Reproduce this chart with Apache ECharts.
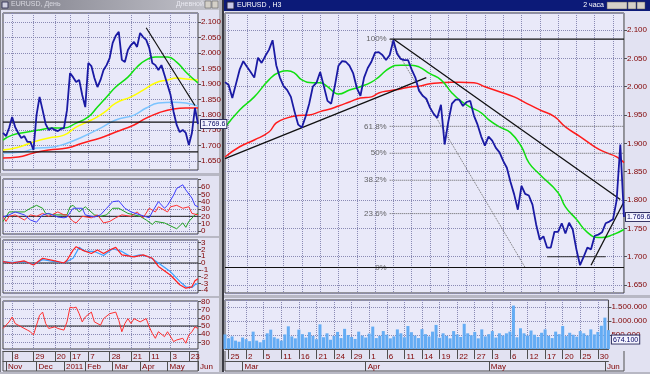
<!DOCTYPE html>
<html><head><meta charset="utf-8">
<script src="https://cdn.jsdelivr.net/npm/echarts@6/dist/echarts.min.js"></script>
<style>html,body{margin:0;padding:0;background:#e2e2f2;}#c{width:650px;height:374px;}</style>
</head><body><div id="c"></div>
<script>
// ---------------- DATA ----------------
// Left window (daily)
const leftClose = [1.741,1.731,1.757,1.793,1.760,1.741,1.725,1.731,1.712,1.712,
  1.686,1.799,1.858,1.815,1.770,1.751,1.757,1.751,1.747,1.754,
  1.757,1.815,1.935,1.922,1.906,1.913,1.864,1.825,1.968,1.958,
  1.919,1.890,1.913,1.945,1.961,1.984,2.033,2.056,2.069,1.978,
  1.971,2.010,2.026,2.036,2.020,2.065,2.052,2.043,2.017,1.968,
  1.961,1.945,1.961,1.929,1.897,1.864,1.809,1.767,1.744,1.751,
  1.741,1.702,1.741,1.822,1.770];
const leftGreen = [[0,1.718],[3,1.734],[8,1.744],[12,1.751],[16,1.757],[20,1.757],[24,1.773],[28,1.793],[31,1.825],[34,1.858],[37,1.890],[41,1.922],[44,1.955],[47,1.978],[50,1.987],[54,1.987],[57,1.971],[60,1.939],[64,1.903]];
const leftYellow = [[0,1.686],[5,1.695],[10,1.712],[15,1.725],[20,1.734],[24,1.760],[29,1.783],[33,1.806],[37,1.838],[42,1.858],[46,1.880],[50,1.903],[54,1.913],[57,1.919],[60,1.916],[64,1.913]];
const leftSky = [[0,1.676],[6,1.679],[11,1.692],[16,1.695],[21,1.708],[26,1.728],[32,1.757],[37,1.783],[43,1.799],[47,1.822],[51,1.838],[56,1.841],[60,1.838],[64,1.828]];
const leftRed = [[0,1.660],[5,1.663],[10,1.676],[15,1.686],[21,1.692],[26,1.708],[32,1.725],[37,1.744],[43,1.767],[47,1.789],[51,1.806],[56,1.819],[60,1.822],[64,1.822]];
const leftLevels = [1.776, 1.680];
const leftTrend = [[47,2.082],[63,1.830]];
const lastPriceText = '1.769.6';

const oscBlue = [[0,19],[2,22],[4,26],[7,22],[9,15],[11,12],[13,22],[15,24],[18,19],[20,18],[21,19],[23,31],[24,31],[26,31],[27,22],[30,19],[32,22],[34,31],[36,40],[38,41],[40,31],[42,26],[45,22],[48,18],[49,26],[51,40],[53,31],[54,35],[56,49],[57,58],[59,63],[60,56],[62,45],[63,35],[64,33]];
const oscRed = [[0,20],[1,13],[2,20],[4,22],[7,15],[9,22],[11,20],[13,24],[15,20],[18,26],[20,22],[21,22],[23,13],[24,11],[26,20],[29,18],[31,22],[33,11],[35,13],[37,18],[39,22],[42,20],[44,26],[46,18],[48,31],[50,26],[51,33],[54,26],[55,33],[57,35],[59,31],[61,33],[62,24],[64,22]];
const oscGreen = [[0,13],[2,26],[4,26],[7,26],[9,31],[11,35],[13,31],[14,24],[17,22],[19,22],[21,22],[22,33],[23,35],[25,26],[27,33],[30,22],[32,20],[34,22],[36,31],[38,31],[41,24],[43,22],[45,20],[47,15],[49,9],[50,13],[53,11],[55,7],[57,3],[59,11],[60,5],[61,13],[63,22],[64,24]];
const oscALevel = 20;
const macdRed = [[0,0.2],[3,0],[7,0.3],[10,-0.3],[13,0.7],[17,0.3],[20,0],[21,0.4],[23,1.9],[24,2.4],[26,1.9],[29,1.4],[31,1.9],[33,1.4],[35,1.9],[37,2.3],[39,1.2],[43,0.9],[46,1.2],[49,0.7],[51,-0.5],[55,-1.8],[58,-3.2],[60,-3.7],[62,-3.5],[63,-2.6],[64,-2.3]];
const macdBlue = [[0,0.2],[3,0.1],[7,0.2],[10,-0.2],[13,0.5],[17,0.2],[20,0],[23,0.7],[25,2.3],[27,1.7],[30,1.7],[33,1.1],[36,2.1],[39,1.7],[42,0.9],[45,1.2],[48,0.9],[51,0],[55,-1.3],[58,-2.7],[60,-3.5],[62,-3.6],[63,-3.2],[64,-3.0]];
const rsi = [[0,47],[2,55],[3,61],[4,53],[6,49],[8,45],[9,43],[10,39],[11,51],[12,63],[13,67],[14,53],[15,47],[17,49],[18,47],[20,45],[21,55],[22,73],[23,72],[24,73],[25,65],[26,55],[27,61],[29,67],[30,55],[32,51],[33,59],[35,65],[37,67],[38,57],[39,43],[40,53],[41,59],[42,53],[43,59],[45,55],[47,59],[48,49],[49,41],[50,35],[51,43],[53,37],[54,43],[56,31],[57,33],[59,35],[60,29],[61,39],[62,43],[63,49],[64,47]];

const leftDays = ['8','29','20','17','7','28','21','11','3','23'];
const leftDayIdx = [3,10,17,22,28,35,42,48,55,61];
const leftMonths = ['Nov','Dec','2011','Feb','Mar','Apr','May','Jun'];
const leftMonthIdx = [1,11,20,27,36,45,54,64];

// Right window (intraday)
const rightClose = [2.008,2.003,1.980,2.005,2.030,2.045,2.035,2.026,2.016,2.051,
  2.042,2.054,2.065,2.082,2.038,2.016,2.001,1.994,1.982,1.956,
  1.933,1.928,1.947,1.970,2.000,2.007,2.026,2.001,1.975,1.970,
  2.001,2.037,2.045,2.044,2.037,2.024,1.998,1.984,2.016,2.033,
  2.044,2.060,2.061,2.056,2.047,2.056,2.082,2.058,2.049,2.047,
  2.047,2.030,2.016,1.993,1.984,1.979,1.963,1.952,1.945,1.968,
  1.898,1.938,1.970,1.977,1.977,1.966,1.973,1.975,1.949,1.933,
  1.912,1.896,1.912,1.905,1.892,1.884,1.869,1.857,1.832,1.810,
  1.783,1.825,1.811,1.808,1.792,1.757,1.730,1.736,1.716,1.716,
  1.744,1.744,1.759,1.741,1.760,1.748,1.713,1.685,1.700,1.716,
  1.713,1.737,1.739,1.743,1.759,1.762,1.766,1.800,1.898,1.770];
const rightGreen = [[0,1.928],[4,1.959],[8,1.982],[12,2.012],[15,2.026],[17,2.028],[19,2.024],[21,2.012],[24,2.007],[26,2.007],[28,2.000],[30,1.989],[31,1.987],[34,1.994],[37,2.000],[40,2.008],[42,2.017],[45,2.033],[48,2.038],[51,2.038],[53,2.035],[56,2.023],[59,2.012],[62,1.989],[64,1.977],[67,1.964],[70,1.954],[72,1.942],[75,1.929],[78,1.919],[81,1.894],[83,1.866],[86,1.845],[91,1.813],[93,1.788],[96,1.766],[99,1.743],[102,1.734],[103,1.734],[106,1.739],[109,1.748]];
const rightRed = [[0,1.876],[4,1.894],[8,1.906],[12,1.920],[14,1.936],[17,1.945],[20,1.949],[23,1.950],[26,1.956],[29,1.961],[31,1.966],[34,1.973],[37,1.980],[40,1.982],[42,1.989],[45,1.993],[48,1.996],[51,2.000],[53,2.001],[56,2.005],[59,2.007],[62,2.008],[64,2.008],[68,2.007],[71,2.000],[75,1.991],[79,1.982],[82,1.972],[86,1.959],[90,1.947],[93,1.929],[97,1.912],[101,1.894],[104,1.884],[107,1.876],[109,1.866]];
const rightSupport = [[0,1.873],[55,2.016]];
const rightResist = [[46,2.084],[108,1.801]];
const rightUpLine = [[100,1.685],[109,1.797]];
const rightFlat = [[88,1.700],[104,1.700]];
const fibHigh = 2.084, fibLow = 1.681, fibStart = 45, fibEnd = 109, fibDiagEnd = 82;
const fibNames = ['100%','61.8%','50%','38.2%','23.6%','0%'];
const fibRatios = [1, 0.618, 0.5, 0.382, 0.236, 0];
const rightVol = [520,380,450,300,260,410,350,280,620,300,
  240,330,560,690,420,370,300,520,810,450,
  380,690,530,410,600,470,350,880,420,560,
  330,470,610,390,720,500,430,360,620,480,
  410,550,800,390,470,640,510,380,450,700,
  560,420,820,600,480,390,710,530,450,620,
  860,400,560,470,380,640,520,430,900,560,
  490,610,380,700,450,530,640,410,560,480,
  560,620,1550,420,740,560,480,660,510,430,
  580,700,470,390,620,530,820,460,580,510,
  440,640,560,480,700,520,610,830,1120,674];
const lastVolText = '674.100';
const rightDays = ['25','2','5','11','16','21','24','29','1','6','11','14','19','22','27','3','6','12','17','20','25','30'];
const rightDayIdx = [1,6,11,16,21,26,31,36,41,46,51,56,61,66,71,76,81,86,91,96,101,106];
const rightMonths = ['Mar','Apr','May','Jun'];
const rightMonthIdx = [5,40,75,108];

// ---------------- CHART ----------------
const LBL = '#800000', FONT = 'Liberation Sans, Arial, sans-serif';
const GL = {type:'dotted', color:'#8a8ab4', width:1};
const PLOTBG = '#e9e9f9';
function mapOf(idx, labels){const m={};idx.forEach((i,k)=>m[i]=labels?labels[k]:'');return m;}
const LD = mapOf(leftDayIdx, leftDays), LM = mapOf(leftMonthIdx, leftMonths);
const RD = mapOf(rightDayIdx, rightDays), RM = mapOf(rightMonthIdx, rightMonths);
const cats = n => Array.from({length:n}, (_,i)=>String(i));

function xCat(gridIndex, n, map, withLabels, offset, tickLen, split){
  const ax = {type:'category', gridIndex, boundaryGap:false, data:cats(n),
    axisLine:{show:false}, axisTick:{show:false}, axisLabel:{show:false},
    splitLine:{show:!!split, interval:(i)=>(i in map), lineStyle:GL}};
  if (withLabels){
    ax.position = 'bottom'; ax.offset = offset;
    ax.axisLine = {show:true, lineStyle:{color:'#505050', width:1}};
    ax.axisTick = {show:true, length:tickLen, interval:(i)=>(i in map), lineStyle:{color:'#505050'}};
    ax.axisLabel = {show:true, interval:(i)=>(i in map), formatter:(v,i)=>map[i]||'',
      align:'left', padding:[0,0,0,2], margin:2, color:LBL, fontSize:8, fontFamily:FONT};
  }
  return ax;
}
function yVal(gridIndex, min, max, splitNumber, fmt){
  return {type:'value', gridIndex, min, max, splitNumber, position:'right',
    axisLine:{show:false}, axisTick:{show:true, length:3, lineStyle:{color:'#505050'}},
    axisLabel:{show:true, color:LBL, fontSize:8, fontFamily:FONT, margin:3,
      showMinLabel:false, showMaxLabel:false, formatter:fmt},
    splitLine:{show:true, lineStyle:GL}};
}
const grid = (left, top, width, height) => ({left, top, width, height, show:true,
  backgroundColor:PLOTBG, borderColor:'#404040', borderWidth:1, containLabel:false});

function ln(x, y, data, color, width, extra){
  return Object.assign({type:'line', xAxisIndex:x, yAxisIndex:y, data, symbol:'none',
    lineStyle:{color, width}, itemStyle:{color}, silent:true, animation:false}, extra||{});
}
const flat = (a, b, v) => [[a, v],[b, v]];
const thou = v => v === 0 ? '0' : String(v*1000).replace(/\B(?=(\d{3})+(?!\d))/g, '.');
const boxLabel = {color:'#000060', fontSize:7, fontFamily:FONT, backgroundColor:'#f4f4ff',
  borderColor:'#303060', borderWidth:1, padding:[1,1,0,1]};

const series = [];
// left price
series.push(ln(0,0,leftRed,'#ff1c1c',1.5,{smooth:true}));
series.push(ln(0,0,leftSky,'#7cc4ff',1.5,{smooth:true}));
series.push(ln(0,0,leftYellow,'#ffff00',1.5,{smooth:true}));
series.push(ln(0,0,leftGreen,'#10e010',1.5,{smooth:true}));
leftLevels.forEach(v=>series.push(ln(0,0,flat(0,64,v),'#101010',1.2)));
series.push(ln(0,0,leftTrend,'#101010',1.2));
series.push(ln(0,0,leftClose,'#1a1aa4',1.8,{endLabel:Object.assign({show:true, formatter:lastPriceText, distance:3}, boxLabel)}));
// panel A
series.push(ln(1,1,flat(0,64,oscALevel),'#202020',1));
series.push(ln(1,1,oscGreen,'#20a020',1));
series.push(ln(1,1,oscRed,'#ff3030',1));
series.push(ln(1,1,oscBlue,'#3c3cff',1));
// panel B
series.push(ln(2,2,flat(0,64,0),'#202020',1));
series.push(ln(2,2,macdBlue,'#3aa0ff',1.2));
series.push(ln(2,2,macdRed,'#ff2020',1.2));
// panel C
series.push(ln(3,3,flat(0,64,50),'#202020',1));
series.push(ln(3,3,rsi,'#ff3030',1));
// right price
series.push(ln(5,4,rightRed,'#ff1c1c',1.5,{smooth:true}));
series.push(ln(5,4,rightGreen,'#10e010',1.5,{smooth:true}));
fibRatios.forEach((r,k)=>{
  const v = fibLow + r*(fibHigh-fibLow);
  const solid = (r===1 || r===0);
  series.push(ln(5,4, r===0 ? flat(0,fibEnd,v) : flat(fibStart,fibEnd,v), solid?'#101010':'#606060', solid?1.2:1,
    solid?{}:{lineStyle:{color:'#606060', width:1, type:'dotted'}}));
});
series.push({type:'scatter', xAxisIndex:5, yAxisIndex:4, symbolSize:0, silent:true, animation:false,
  data: fibRatios.map((r,k)=>({name:fibNames[k], value:[fibStart, fibLow + r*(fibHigh-fibLow)]})),
  label:{show:true, position:'left', distance:3, formatter:'{b}', color:'#404040', fontSize:8, fontFamily:FONT}});
series.push(ln(5,4,[[fibStart,fibHigh],[fibDiagEnd,fibLow]],'#707070',1,{lineStyle:{color:'#707070',width:1,type:'dotted'}}));
series.push(ln(5,4,rightSupport,'#101010',1.3));
series.push(ln(5,4,rightResist,'#101010',1.3));
series.push(ln(5,4,rightUpLine,'#101010',1.3));
series.push(ln(5,4,rightFlat,'#303030',1));
series.push(ln(5,4,rightClose,'#1a1aa4',1.8,{endLabel:Object.assign({show:true, formatter:lastPriceText, distance:2}, boxLabel)}));
// volume
series.push({type:'bar', xAxisIndex:6, yAxisIndex:5, barWidth:3, silent:true, animation:false,
  itemStyle:{color:'#64acf4'},
  data: rightVol.map((v,i)=> i===rightVol.length-1 ? {value:v, label:Object.assign({show:true, position:'right', distance:2,
    formatter:lastVolText}, boxLabel)} : v)});

const option = {
  animation:false,
  backgroundColor:'#e2e2f2',
  grid:[grid(3,13,195,157), grid(3,179,195,55), grid(3,240,195,53), grid(3,301,195,48),
        grid(225,13,399,280), grid(225,300,399,49)],
  xAxis:[
    xCat(0,65,LD,false,0,0,true), xCat(1,65,LD,false,0,0,true), xCat(2,65,LD,false,0,0,true),
    xCat(3,65,LD,true,2,10,true), xCat(3,65,LM,true,12,10,false),
    xCat(4,110,RD,false,0,0,true),
    xCat(5,110,RD,true,2,10,true), xCat(5,110,RM,true,12,10,false)
  ],
  yAxis:[
    yVal(0,1.621,2.130,10,v=>v.toFixed(3)),
    yVal(1,-4.1,70.9,7,v=>(v>60?'':String(v))),
    yVal(2,-4.41,3.38,8,v=>String(v)),
    yVal(3,21.95,80.5,6,v=>String(v)),
    yVal(4,1.636,2.130,10,v=>v.toFixed(3)),
    yVal(5,0,1750,4,thou)
  ],
  series,
  graphic:{elements:[
    // left title bar
    {type:'rect', shape:{x:0,y:0,width:219,height:10}, style:{fill:new echarts.graphic.LinearGradient(0,0,1,0,[{offset:0,color:'#7f7f8a'},{offset:1,color:'#c4c4cc'}])}, silent:true},
    {type:'rect', shape:{x:2,y:2,width:6,height:6}, style:{fill:'#d0d0e0', stroke:'#404060'}, silent:true},
    {type:'text', x:11, y:1, style:{text:'EURUSD, День', fill:'#d8d8e0', fontSize:7, fontFamily:FONT}, silent:true},
    {type:'text', x:176, y:1, style:{text:'Дневной', fill:'#e8e8f0', fontSize:7, fontFamily:FONT}, silent:true},
    {type:'rect', shape:{x:205,y:1,width:6,height:7}, style:{fill:'#d4d0c8', stroke:'#505050', lineWidth:0.5}, silent:true},
    {type:'rect', shape:{x:212,y:1,width:6,height:7}, style:{fill:'#d4d0c8', stroke:'#505050', lineWidth:0.5}, silent:true},
    // right title bar
    {type:'rect', shape:{x:224,y:0,width:426,height:11}, style:{fill:'#0c1a78'}, silent:true},
    {type:'rect', shape:{x:227,y:2,width:7,height:7}, style:{fill:'#c8c8e8', stroke:'#202040'}, silent:true},
    {type:'text', x:237, y:2, style:{text:'EURUSD , H3', fill:'#ffffff', fontSize:7, fontFamily:FONT}, silent:true},
    {type:'text', x:604, y:2, style:{text:'2 часа', fill:'#ffffff', fontSize:7, fontFamily:FONT, align:'right'}, silent:true},
    {type:'rect', shape:{x:607,y:2,width:20,height:7}, style:{fill:'#d4d0c8', stroke:'#505050', lineWidth:0.5}, silent:true},
    {type:'rect', shape:{x:628,y:2,width:8,height:7}, style:{fill:'#d4d0c8', stroke:'#505050', lineWidth:0.5}, silent:true},
    {type:'rect', shape:{x:637,y:2,width:8,height:7}, style:{fill:'#d4d0c8', stroke:'#505050', lineWidth:0.5}, silent:true},
    // window divider
    {type:'rect', shape:{x:219,y:0,width:3,height:374}, style:{fill:'#b4b4bc'}, silent:true},
    {type:'rect', shape:{x:222,y:0,width:2,height:374}, style:{fill:'#3c3c44'}, silent:true},
    {type:'rect', shape:{x:0,y:0,width:1,height:374}, style:{fill:'#808088'}, silent:true},
    // panel splitters
    {type:'rect', shape:{x:0,y:173,width:219,height:3}, style:{fill:'#b8b8c4'}, silent:true},
    {type:'rect', shape:{x:0,y:236,width:219,height:2}, style:{fill:'#b8b8c4'}, silent:true},
    {type:'rect', shape:{x:0,y:296,width:219,height:2}, style:{fill:'#b8b8c4'}, silent:true},
    {type:'rect', shape:{x:224,y:295,width:426,height:3}, style:{fill:'#b8b8c4'}, silent:true},
    // date box borders
    {type:'line', shape:{x1:3,y1:371,x2:198,y2:371}, style:{stroke:'#505050'}, silent:true},
    {type:'line', shape:{x1:3,y1:351,x2:3,y2:371}, style:{stroke:'#505050'}, silent:true},
    {type:'line', shape:{x1:198,y1:351,x2:198,y2:371}, style:{stroke:'#505050'}, silent:true},
    {type:'line', shape:{x1:225,y1:371,x2:624,y2:371}, style:{stroke:'#505050'}, silent:true},
    {type:'line', shape:{x1:225,y1:351,x2:225,y2:371}, style:{stroke:'#505050'}, silent:true},
    {type:'line', shape:{x1:624,y1:351,x2:624,y2:371}, style:{stroke:'#505050'}, silent:true},
    // bottom strip
    {type:'rect', shape:{x:0,y:372,width:650,height:2}, style:{fill:'#b8b8c4'}, silent:true}
  ]}
};
const chart = echarts.init(document.getElementById('c'), null, {renderer:'canvas', width:650, height:374});
chart.setOption(option);
</script></body></html>
